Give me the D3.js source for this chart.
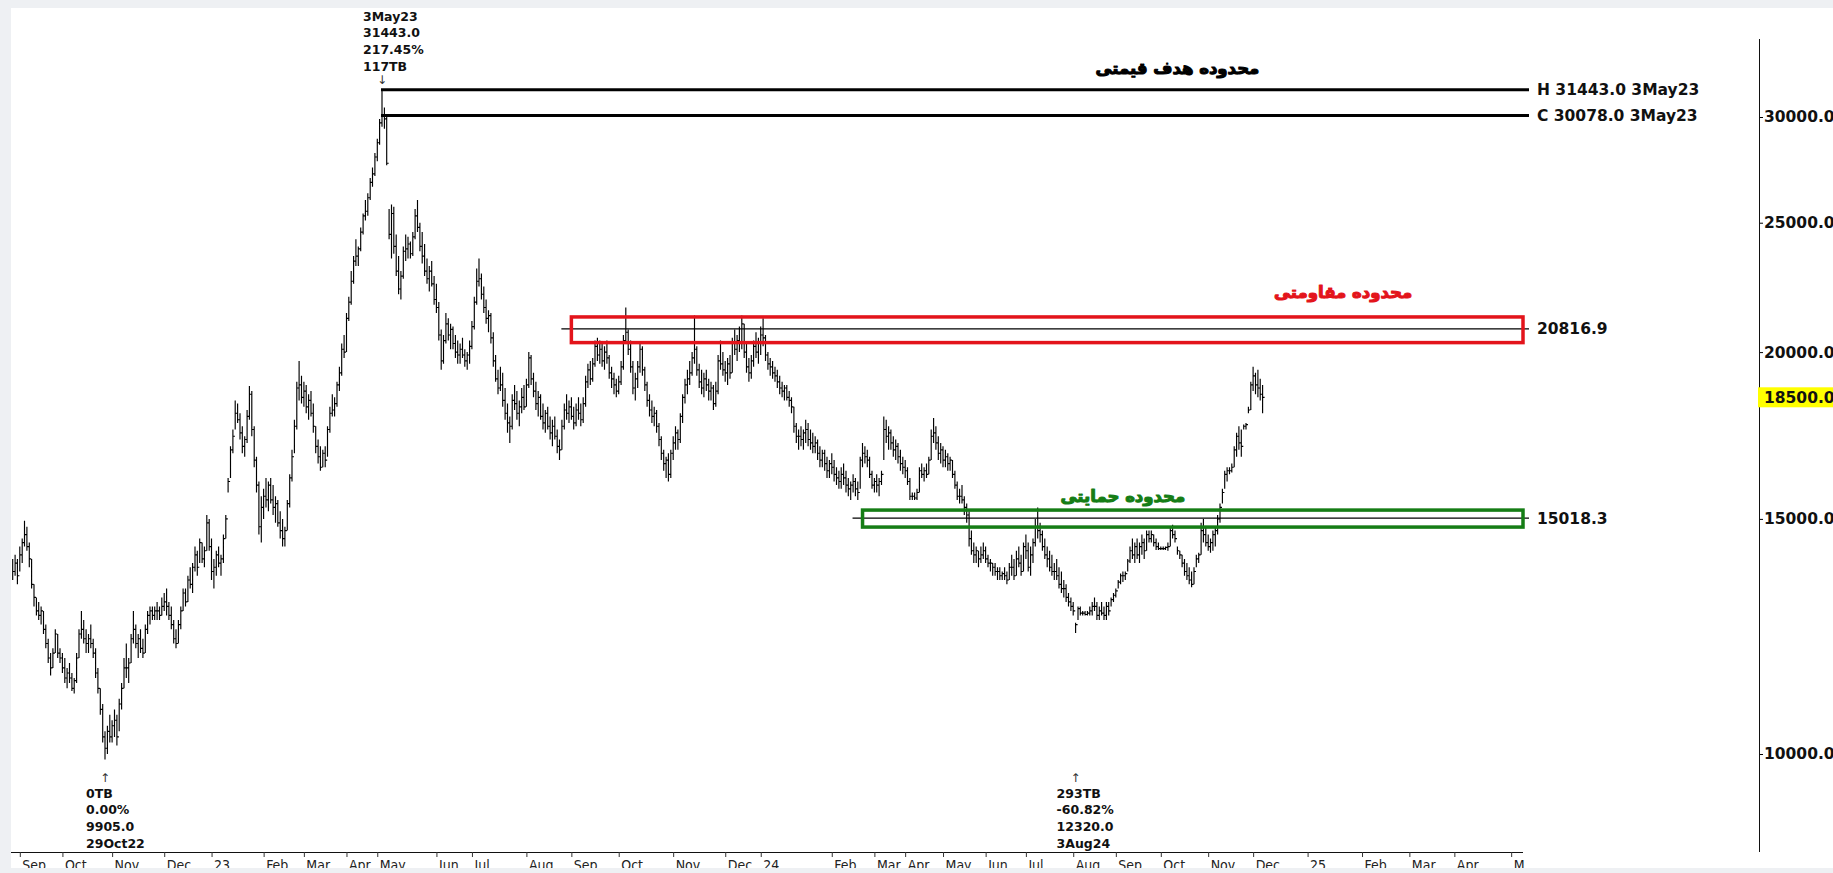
<!DOCTYPE html>
<html>
<head>
<meta charset="utf-8">
<script src="https://cdn.jsdelivr.net/npm/d3@7"></script>
<style>
  body { margin: 0; background: #eef0f3; }
  svg { display: block; }
  .bold-label { font-family: "DejaVu Sans", Verdana, sans-serif; font-weight: bold; fill: #111; }
  .fa-title { font-family: "DejaVu Sans", sans-serif; font-weight: bold; }
  .x-axis text { font-family: "DejaVu Sans Condensed", "DejaVu Sans", sans-serif; font-stretch: condensed; font-size: 14px; fill: #222; }
  .y-axis text { font-family: "DejaVu Sans", Verdana, sans-serif; font-weight: bold; font-size: 15.5px; fill: #111; }
</style>
</head>
<body>
<div id="chart"></div>
<script>
// daily bars: [high, low, close], Sep 2022 .. Dec 2024
var hlc = [
  [14000,13500,13700],[14100,13600,13900],[14000,13400,13600],[14300,13700,14100],[14500,13900,14400],[14950,14300,14600],[14800,14200,14300],[14400,13800,14000],[14000,13300,13400],[13400,12900,13100], // 0
  [13100,12700,12800],[13000,12600,12700],[12900,12500,12800],[12800,12300,12400],[12500,12000,12100],[12200,11700,11800],[11900,11450,11600],[12000,11600,11900],[12400,11900,12300],[12300,11800,11900], // 10
  [12000,11700,11800],[11900,11500,11600],[11800,11300,11400],[11600,11200,11500],[11700,11300,11400],[11500,11150,11200],[11400,11100,11350],[11900,11300,11800],[12400,11800,12300],[12800,12200,12400], // 20
  [12600,12100,12200],[12400,11900,12100],[12300,11900,12200],[12500,12000,12100],[12200,11800,11900],[12000,11400,11500],[11600,11100,11200],[11200,10700,10800],[10900,10200,10300],[10400,9905,10100], // 30
  [10500,10000,10400],[10700,10200,10300],[10600,10200,10500],[10800,10300,10600],[10700,10150,10300],[11000,10400,10900],[11300,10800,11200],[11800,11200,11600],[12100,11400,11600],[11800,11300,11700], // 40
  [12300,11700,12200],[12800,12100,12400],[12500,12000,12100],[12300,11800,12200],[12400,11900,12000],[12200,11800,11900],[12500,11900,12400],[12800,12300,12700],[12900,12500,12800],[12900,12600,12700], // 50
  [12900,12600,12800],[13000,12600,12800],[12900,12600,12700],[13100,12700,12900],[13200,12800,13000],[13300,12700,12900],[13000,12600,12700],[12900,12400,12500],[12600,12100,12200],[12400,12000,12100], // 60
  [12600,12100,12500],[12900,12400,12800],[13300,12800,13200],[13300,12900,13000],[13600,13000,13500],[13800,13300,13400],[13900,13200,13800],[14300,13700,14100],[14200,13600,13800],[14500,13900,14400], // 70
  [14400,13900,14000],[14300,13800,14200],[15100,14200,14900],[15000,14200,14300],[14500,13500,13700],[14000,13300,13800],[14200,13600,14100],[14300,13800,13900],[14100,13600,14000],[14600,13900,14500], // 80
  [15100,14500,15000],[16100,15700,16000],[17000,16100,16900],[17500,16800,17300],[18400,17500,18000],[18300,17700,17800],[18000,17200,17400],[17600,16800,17000],[17300,16700,17200],[18100,17100,17900], // 90
  [18860,17800,18600],[18700,17300,17500],[17600,16400,16600],[16700,15700,15900],[16000,14600,14800],[15600,14400,15300],[15800,15000,15600],[16100,15300,15500],[16000,15200,15900],[16100,15400,15500], // 100
  [15900,15100,15300],[15600,14900,15400],[15500,14800,14900],[15200,14500,14700],[15000,14300,14500],[14800,14300,14700],[15500,14700,15400],[16200,15300,16100],[16900,16000,16700],[17800,16800,17600], // 110
  [19000,17500,18800],[19700,18400,18900],[19200,18300,18500],[19000,18200,18700],[18900,18000,18200],[18600,17800,18400],[18700,17900,18000],[18300,17400,17600],[17600,16800,17000],[17200,16500,16700], // 120
  [17000,16300,16400],[16900,16400,16800],[17000,16400,16600],[17600,16700,17500],[18200,17400,18000],[18600,17900,18100],[18500,17900,18300],[19000,18200,18900],[19500,18700,19300],[20300,19200,20100], // 130
  [20600,19800,20000],[21400,20000,21200],[22000,21100,21800],[23000,21700,22600],[23600,22500,23400],[24300,23200,23600],[24000,23200,23900],[24800,23800,24600],[25400,24500,25300],[26000,25100,25500], // 140
  [26300,25300,26100],[27000,26000,26800],[27500,26600,27200],[28200,27100,28000],[28900,27800,28700],[29900,28600,29700],[31443,29500,30078],[30500,29400,29900],[30100,27600,27700],[25600,24300,24500], // 150
  [25800,23500,25400],[25700,23700,24000],[24500,22800,23000],[23600,22100,22300],[23000,21900,22800],[24000,22700,23800],[24500,23400,23900],[24400,23500,24100],[24200,23500,23700],[24600,23600,24400], // 160
  [25600,24300,25300],[26000,24600,24800],[25000,23800,24000],[24600,23300,23600],[24100,22800,23000],[23500,22500,22700],[23200,22200,23000],[23400,22400,22500],[22800,21700,21900],[22500,21400,21600], // 170
  [21800,20400,20600],[20800,19400,19700],[20600,19600,20400],[21400,20300,21000],[21200,20400,20600],[21000,20100,20800],[20900,20100,20300],[20600,19800,20000],[20400,19600,19900],[20300,19600,20100], // 180
  [20500,19800,19900],[20100,19500,19700],[20000,19400,19900],[20400,19600,20200],[21100,20100,20900],[22000,20800,21800],[23100,21700,22600],[23500,22400,22700],[22900,21900,22100],[22400,21400,21600], // 190
  [21900,21000,21200],[21500,20700,21300],[21400,20300,20500],[20700,19500,19700],[19900,19000,19100],[19400,18600,18800],[19500,18700,18900],[19300,18200,18400],[18800,17800,18000],[18300,17400,17700], // 200
  [17900,17100,17600],[18600,17500,18400],[18900,18100,18300],[18700,17800,18000],[18400,17600,18200],[18800,18000,18500],[18900,18100,18200],[19100,18200,18900],[20000,18800,19800],[19900,18900,19100], // 210
  [19300,18500,18700],[19000,18100,18300],[18700,17900,18500],[18600,17800,17900],[18300,17500,17700],[18100,17400,18000],[18200,17500,17600],[17900,17200,17400],[17800,17000,17600],[17900,17200,17300], // 220
  [17500,16800,17000],[17200,16600,16900],[17800,16900,17600],[18300,17500,18100],[18600,17800,18000],[18400,17700,18200],[18500,17800,17900],[18200,17500,17700],[18300,17600,18100],[18500,17800,18000], // 230
  [18300,17600,17800],[18500,17700,18300],[19200,18200,19000],[19600,18800,19400],[19700,18900,19100],[19800,19000,19600],[20400,19500,20200],[20500,19700,19900],[20400,19600,20100],[20300,19500,19700], // 240
  [20200,19400,20000],[20400,19600,19800],[19900,19100,19300],[19500,18800,19100],[19300,18600,18900],[19100,18500,18700],[19200,18600,19000],[19700,18900,19500],[20600,19400,20400],[21600,20300,20700], // 250
  [20800,19900,20100],[20400,19300,19500],[19700,18600,18800],[19300,18400,19100],[19700,18800,19500],[20300,19300,20100],[20200,19200,19400],[19500,18700,18900],[19000,18200,18400],[18600,17900,18100], // 260
  [18400,17700,17900],[18200,17600,18000],[18100,17400,17600],[17700,17000,17200],[17300,16600,16800],[16900,16300,16500],[16700,16100,16600],[16800,16000,16200],[16900,16100,16800],[17300,16600,17100], // 270
  [17600,16900,17400],[17500,16900,17200],[18000,17100,17900],[18600,17700,18500],[19100,18300,18900],[19400,18600,19100],[19700,18900,19300],[20000,19200,19800],[21300,19600,20100],[20200,19200,19400], // 280
  [19600,18800,19000],[19400,18600,18800],[19300,18500,19100],[19400,18700,18900],[19100,18400,18700],[19000,18400,18800],[18900,18100,18300],[19000,18200,18700],[19900,18600,19700],[20400,19400,19600], // 290
  [20000,19200,19400],[19700,19000,19300],[19800,18900,19600],[19900,19100,19300],[20500,19300,20300],[20800,19900,20100],[20600,19700,20400],[20900,20000,20300],[21300,20100,21000],[21000,19800,20000], // 300
  [20300,19300,19500],[19800,19000,19300],[19900,19100,19700],[20400,19500,20200],[20700,19800,20000],[20500,19600,20300],[20900,19900,20600],[21200,20200,20500],[20600,19700,19900],[20000,19400,19600], // 310
  [19800,19200,19500],[19700,19100,19300],[19500,19000,19200],[19400,18800,19000],[19200,18600,18800],[19000,18500,18700],[18900,18400,18800],[18900,18400,18500],[18700,18200,18400],[18500,18000,18200], // 320
  [18200,17400,17600],[17700,17100,17300],[17500,16900,17300],[17600,17000,17200],[17500,16900,17400],[17800,17100,17500],[17700,17000,17200],[17500,16900,17100],[17400,16800,17000],[17300,16800,17100], // 330
  [17200,16600,16800],[17000,16400,16600],[16900,16400,16800],[16900,16300,16500],[16700,16100,16300],[16600,16100,16500],[16800,16200,16400],[16600,16000,16200],[16400,15900,16100],[16300,15800,16000], // 340
  [16400,15800,16200],[16500,15900,16100],[16300,15700,15900],[16100,15600,15800],[16000,15500,15900],[16200,15700,16000],[16100,15600,15800],[16000,15500,15700],[16700,15800,16600],[17100,16400,16800], // 350
  [17000,16500,16700],[16900,16400,16600],[16700,16100,16200],[16300,15800,15900],[16100,15700,16000],[16200,15700,15900],[16100,15600,16000],[16300,15900,16200],[17900,16600,17500],[17800,17100,17300], // 360
  [17600,16900,17400],[17500,16900,17100],[17300,16700,16900],[17200,16600,17000],[17100,16500,16700],[16900,16300,16500],[16700,16200,16400],[16600,16100,16300],[16400,15900,16000],[16100,15500,15600], // 370
  [15700,15500,15600],[15700,15500,15550],[15800,15500,15700],[16400,15700,16300],[16500,16100,16200],[16400,16000,16300],[16500,16100,16200],[16700,16200,16600],[17500,16600,17300],[17850,17100,17400], // 380
  [17600,16900,17100],[17300,16600,16800],[17100,16500,16900],[17000,16400,16600],[16900,16400,16700],[16800,16300,16500],[16700,16300,16600],[16600,16100,16200],[16300,15800,15900],[16000,15500,15600], // 390
  [15800,15400,15600],[15900,15400,15500],[15600,15100,15300],[15400,14900,15100],[15200,14300,14500],[14700,14100,14200],[14400,13900,14100],[14300,13900,14200],[14200,13800,14000],[14300,13900,14100], // 400
  [14400,14000,14200],[14300,13900,14000],[14100,13800,13900],[14000,13700,13900],[13900,13600,13800],[13900,13600,13700],[13800,13500,13700],[13800,13500,13600],[13700,13500,13650],[13800,13500,13600], // 410
  [13700,13400,13500],[13900,13500,13800],[14100,13600,13800],[14000,13500,13600],[14200,13600,14000],[14300,13800,13900],[14100,13600,13700],[14400,13700,14300],[14600,14000,14200],[14400,13700,13800], // 420
  [14300,13600,14100],[14500,13900,14400],[15000,14300,14800],[15300,14500,14700],[14900,14400,14600],[14700,14200,14300],[14500,14000,14100],[14300,13800,14000],[14200,13700,13800],[14100,13600,13700], // 430
  [13900,13500,13700],[14000,13500,13600],[13800,13300,13400],[13700,13200,13300],[13500,13100,13300],[13400,13000,13100],[13200,12900,13000],[13100,12800,12900],[13000,12700,12800],[12540,12320,12500], // 440
  [12900,12600,12850],[12900,12700,12750],[12800,12700,12750],[12800,12700,12720],[12800,12700,12750],[12900,12700,12800],[13000,12700,12900],[13100,12800,12900],[13000,12600,12700],[12900,12600,12800], // 450
  [13000,12700,12750],[12900,12600,12700],[13000,12600,12900],[13000,12700,12800],[13100,12900,13050],[13200,13000,13150],[13300,13100,13250],[13500,13300,13450],[13650,13400,13600],[13700,13450,13600], // 460
  [13700,13500,13650],[14000,13700,13950],[14300,13900,14200],[14500,14000,14100],[14400,13900,14300],[14500,14000,14100],[14400,13900,14300],[14600,14100,14400],[14500,14000,14200],[14700,14200,14600], // 470
  [14700,14400,14500],[14700,14400,14600],[14600,14300,14400],[14500,14220,14300],[14400,14220,14250],[14300,14220,14250],[14300,14220,14250],[14300,14220,14280],[14400,14200,14300],[14800,14300,14700], // 480
  [14850,14500,14600],[14700,14400,14500],[14300,14100,14200],[14200,14000,14100],[14100,13800,13900],[14000,13600,13700],[13900,13500,13600],[13800,13400,13500],[13700,13330,13400],[13800,13400,13700], // 490
  [14100,13800,14000],[14150,13900,14100],[14900,14100,14700],[15000,14400,14600],[14800,14300,14400],[14600,14200,14300],[14500,14150,14400],[14700,14200,14600],[14800,14300,14700],[15100,14600,15000], // 500
  [15400,14900,15300],[15800,15400,15700],[16300,15800,16200],[16400,16000,16300],[16400,16200,16300],[16500,16250,16400],[17000,16400,16900],[17400,16700,17300],[17600,16900,17100],[17500,16700,17000], // 510
  [17650,17500,17600],[17700,17500,17650],[18200,18000,18100],[19000,18100,18900],[19500,18700,19200],[19300,18600,18900],[19400,18500,18800],[19100,18400,18600],[18900,18000,18500] // 520
]

// x axis: bar index where each month starts
var monthTickIdx = [3, 21, 42, 64, 84, 106, 123, 141, 154, 179, 194, 217, 236, 256, 279, 301, 316, 346, 364, 377, 393, 411, 428, 448, 466, 485, 505, 524, 547, 570, 590, 609, 633]
var monthLabels = ['Sep', 'Oct', 'Nov', 'Dec', '23', 'Feb', 'Mar', 'Apr', 'May', 'Jun', 'Jul', 'Aug', 'Sep', 'Oct', 'Nov', 'Dec', '24', 'Feb', 'Mar', 'Apr', 'May', 'Jun', 'Jul', 'Aug', 'Sep', 'Oct', 'Nov', 'Dec', '25', 'Feb', 'Mar', 'Apr', 'M']
var yTickValues = [10000, 15000, 20000, 25000, 30000]
var lastPrice = 18500

// levels
var peakLines = [
  { tag: 'H', value: 31443.0, date: '3May23' },
  { tag: 'C', value: 30078.0, date: '3May23' }
]
var peakIdx = 156
var resistance = { level: 20816.9, lo: 20330, hi: 21250, startIdx: 236 }
var support = { level: 15018.3, lo: 14790, hi: 15230, startIdx: 359 }
var zoneTitles = ['محدوده هدف قیمتی', 'محدوده مقاومتی', 'محدوده حمایتی']

// pivot notes
var pivotNotes = [
  { idx: 156, lines: ['3May23', '31443.0', '217.45%', '117TB'], top: true },
  { idx: 39, lines: ['0TB', '0.00%', '9905.0', '29Oct22'], top: false },
  { idx: 449, lines: ['293TB', '-60.82%', '12320.0', '3Aug24'], top: false }
]

var W = 1833, H = 873
var plot = { left: 11, top: 8, right: 1523, bottom: 852 }
var axisX = 1759

var svg = d3.select('#chart').append('svg')
  .attr('width', W)
  .attr('height', H)

svg.append('rect')
  .attr('x', plot.left).attr('y', plot.top)
  .attr('width', W - plot.left).attr('height', 868 - plot.top)
  .attr('fill', '#fff')

var x = d3.scaleLinear().domain([0, 638]).range([12.7, plot.right])
var y = d3.scaleLog().domain([10000, 30000]).range([754, 117])

// 横坐标
var xAxis = d3.axisBottom(x)
  .tickValues(monthTickIdx)
  .tickFormat(function (d, i) { return monthLabels[i] })
  .tickSize(5)
  .tickSizeOuter(0)

var gx = svg.append('g')
  .classed('x-axis', true)
  .attr('transform', 'translate(0,' + plot.bottom + ')')
  .call(xAxis)
gx.select('.domain').attr('d', 'M' + plot.left + ',0.5H' + plot.right).attr('stroke', '#111')
gx.selectAll('.tick line').attr('stroke', '#333')
gx.selectAll('.tick text')
  .attr('text-anchor', 'start')
  .attr('x', 2)
  .attr('y', 8)
  .attr('font-size', null)
  .attr('font-family', null)

// 纵坐标 (right)
var yAxis = d3.axisRight(y)
  .tickValues(yTickValues)
  .tickFormat(d3.format('.1f'))
  .tickSize(4)
  .tickSizeOuter(0)

var gy = svg.append('g')
  .classed('y-axis', true)
  .attr('transform', 'translate(' + axisX + ',0)')
  .call(yAxis)
gy.select('.domain').remove()
gy.append('line')
  .attr('x1', 0.5).attr('x2', 0.5)
  .attr('y1', 39).attr('y2', plot.bottom)
  .attr('stroke', '#111')
gy.selectAll('.tick text')
  .attr('x', 5)
  .attr('font-size', null)
  .attr('font-family', null)

var yl = y(lastPrice)
gy.append('rect')
  .attr('x', -1).attr('y', yl - 10)
  .attr('width', W - axisX + 1).attr('height', 20)
  .attr('fill', '#ffff00')
gy.append('text')
  .attr('x', 5).attr('y', yl).attr('dy', '0.35em')
  .text(d3.format('.1f')(lastPrice))

// bars
var barPath = hlc.map(function (d, i) {
  var cx = x(i)
  return 'M' + cx.toFixed(1) + ',' + y(d[0]).toFixed(1) + 'V' + y(d[1]).toFixed(1) +
    'M' + cx.toFixed(1) + ',' + y(d[2]).toFixed(1) + 'h2'
}).join('')

svg.append('path')
  .classed('bars', true)
  .attr('d', barPath)
  .attr('fill', 'none')
  .attr('stroke', '#000')
  .attr('stroke-width', 1.15)

// H / C lines from the peak
var lineEnd = 1529
var labelX = 1537
var peakG = svg.append('g').classed('peak-lines', true)
peakLines.forEach(function (p) {
  var py = y(p.value)
  peakG.append('line')
    .attr('x1', x(peakIdx) - 1).attr('x2', lineEnd)
    .attr('y1', py).attr('y2', py)
    .attr('stroke', '#000').attr('stroke-width', 3)
  peakG.append('text')
    .classed('bold-label', true)
    .attr('x', labelX).attr('y', py).attr('dy', '0.36em')
    .attr('font-size', 15.5)
    .text(p.tag + ' ' + d3.format('.1f')(p.value) + ' ' + p.date)
})

function persianTitle (tx, ty, color, title) {
  svg.append('text')
    .classed('fa-title', true)
    .attr('x', tx).attr('y', ty)
    .attr('text-anchor', 'middle')
    .attr('dy', '0.35em')
    .attr('font-size', 16.5)
    .attr('fill', color)
    .attr('stroke', color)
    .attr('stroke-width', 1.1)
    .attr('stroke-linejoin', 'round')
    .attr('direction', 'rtl')
    .text(title)
}

function drawZone (zone, color, title, titleIdx, titleGap) {
  var g = svg.append('g')
  var yTop = y(zone.hi), yBot = y(zone.lo)
  g.append('line')
    .attr('x1', x(zone.startIdx) - 10).attr('x2', lineEnd)
    .attr('y1', y(zone.level)).attr('y2', y(zone.level))
    .attr('stroke', '#000').attr('stroke-width', 1.2)
  g.append('rect')
    .attr('x', x(zone.startIdx)).attr('y', yTop)
    .attr('width', plot.right - x(zone.startIdx))
    .attr('height', yBot - yTop)
    .attr('fill', 'none')
    .attr('stroke', color).attr('stroke-width', 3.5)
  g.append('text')
    .classed('bold-label', true)
    .attr('x', labelX).attr('y', y(zone.level)).attr('dy', '0.36em')
    .attr('font-size', 15.5)
    .text(d3.format('.1f')(zone.level))
  persianTitle(x(titleIdx), yTop - titleGap, color, title)
}

drawZone(resistance, '#e3141b', zoneTitles[1], 562, 25)
drawZone(support, '#157d15', zoneTitles[2], 469, 14)
persianTitle(x(492), y(peakLines[0].value) - 22, '#000', zoneTitles[0])

// pivot notes
pivotNotes.forEach(function (n) {
  var px = x(n.idx)
  var g = svg.append('g').classed('pivot-note', true)
  var arrowY = n.top ? 80 : 778
  var firstY = n.top ? 16 : 793
  g.append('text')
    .attr('x', px).attr('y', arrowY).attr('dy', '0.35em')
    .attr('text-anchor', 'middle')
    .attr('font-family', 'DejaVu Sans, sans-serif')
    .attr('font-size', 12)
    .attr('fill', '#333')
    .text(n.top ? '\u2193' : '\u2191')
  n.lines.forEach(function (t, i) {
    g.append('text')
      .classed('bold-label', true)
      .attr('x', px - 19)
      .attr('y', firstY + i * 16.8)
      .attr('dy', '0.36em')
      .attr('font-size', 12.5)
      .text(t)
  })
})

// frame bands
svg.append('rect').attr('x', 0).attr('y', 868).attr('width', W).attr('height', H - 868).attr('fill', '#eef0f3')
svg.append('rect').attr('x', 0).attr('y', 0).attr('width', W).attr('height', plot.top).attr('fill', '#eef0f3')
svg.append('rect').attr('x', 0).attr('y', 0).attr('width', plot.left).attr('height', H).attr('fill', '#eef0f3')
</script>
</body>
</html>
